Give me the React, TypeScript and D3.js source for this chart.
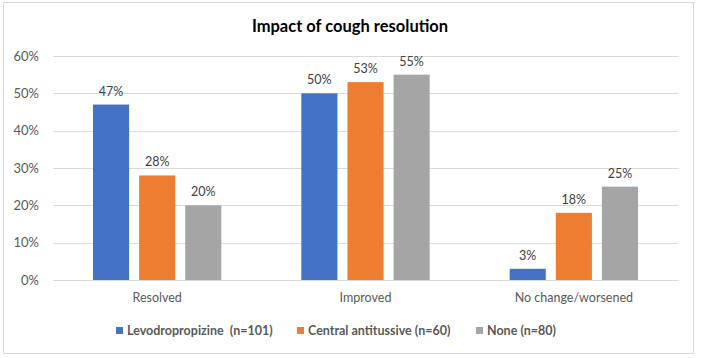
import React from "react";
import * as d3 from "d3";

const categories = ["Resolved", "Improved", "No change/worsened"];
const seriesNames = ["Levodropropizine  (n=101)", "Central antitussive (n=60)", "None (n=80)"];
const levodropropizine = [47, 50, 3];
const centralAntitussive = [28, 53, 18];
const none = [20, 55, 25];
const yTicks = [0, 10, 20, 30, 40, 50, 60];
const colors = ["#4472C4", "#ED7D31", "#A5A5A5"];

const W = 701, H = 358;
const FONT = "Lato, 'Open Sans', sans-serif";

export default function App() {
  const series = [levodropropizine, centralAntitussive, none];
  const left = 53, right = 678, top = 56, bottom = 280;
  const x0 = d3.scaleBand<string>().domain(categories).range([left, right]).padding(0);
  const bw = x0.bandwidth();
  const x1 = d3.scaleBand<number>().domain([0, 1, 2]).range([40, bw - 40]).paddingInner(0.217).paddingOuter(0);
  const y = d3.scaleLinear().domain([0, 60]).range([bottom, top]);

  const legendX = [116, 297, 476];

  return (
    <svg width={W} height={H} style={{ position: "absolute", left: 0, top: 0 }} fontFamily={FONT}>
      <rect x={0} y={0} width={W} height={H} fill="#fff" />
      <rect x={3.5} y={2.5} width={690} height={351} fill="#fff" stroke="#D9D9D9" strokeWidth={1} />
      <text x={350} y={32} textAnchor="middle" fontSize={16.5} fontWeight="bold" fill="#000">Impact of cough resolution</text>
      {yTicks.map((t) => (
        <g key={t}>
          <line x1={left} x2={right} y1={Math.round(y(t)) + 0.5} y2={Math.round(y(t)) + 0.5} stroke="#D9D9D9" strokeWidth={1} />
          <text x={39} y={y(t) + 4.5} textAnchor="end" fontSize={13} fill="#595959">{t}%</text>
        </g>
      ))}
      {categories.map((c, ci) => (
        <g key={c}>
          {series.map((s, si) => {
            const bx = (x0(c) as number) + (x1(si) as number);
            return (
              <g key={si}>
                <rect x={bx} y={y(s[ci])} width={x1.bandwidth()} height={bottom - y(s[ci])} fill={colors[si]} />
                <text x={bx + x1.bandwidth() / 2} y={y(s[ci]) - 9} textAnchor="middle" fontSize={12.5} fill="#404040">{s[ci]}%</text>
              </g>
            );
          })}
          <text x={(x0(c) as number) + bw / 2} y={302} textAnchor="middle" fontSize={12.5} fill="#595959">{c}</text>
        </g>
      ))}
      {seriesNames.map((n, i) => (
        <g key={n}>
          <rect x={legendX[i]} y={327} width={7} height={7} fill={colors[i]} />
          <text x={legendX[i] + 11} y={335} fontSize={12.5} fontWeight="bold" fill="#595959" style={{ whiteSpace: "pre" }}>{n}</text>
        </g>
      ))}
    </svg>
  );
}
